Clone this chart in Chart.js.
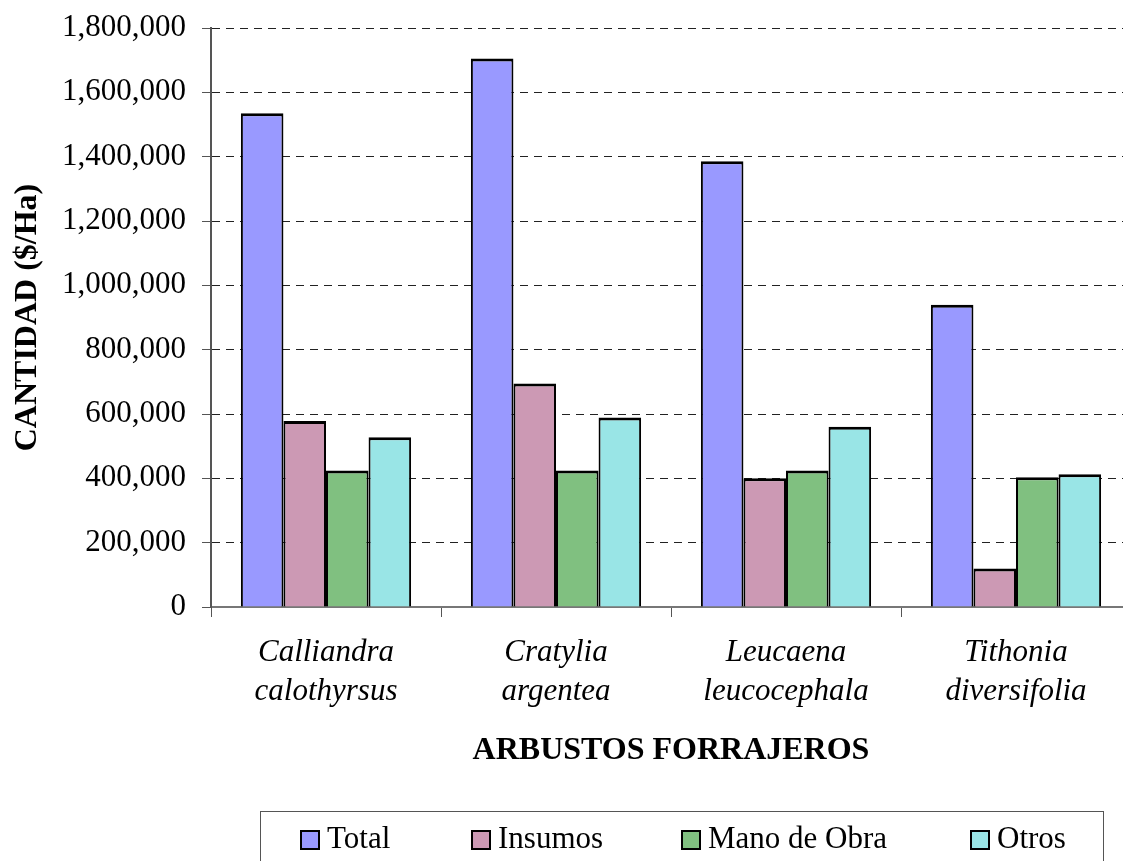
<!DOCTYPE html>
<html>
<head>
<meta charset="utf-8">
<title>Costos de establecimiento de arbustos forrajeros</title>
<script src="https://cdn.jsdelivr.net/npm/chart.js@4"></script>
<style>
  html, body { margin: 0; padding: 0; overflow: hidden; background: #fff; }
  #wrap { width: 1131px; height: 861px; }
</style>
</head>
<body>
<div id="wrap"><canvas id="costChart" width="1131" height="861"></canvas></div>
<script>
// Costos por hectárea de cada arbusto forrajero
var categories = [
  ['Calliandra', 'calothyrsus'],
  ['Cratylia', 'argentea'],
  ['Leucaena', 'leucocephala'],
  ['Tithonia', 'diversifolia']
];
var seriesNames = ['Total', 'Insumos', 'Mano de Obra', 'Otros'];
var total = [1535000, 1705000, 1386000, 940000];
var insumos = [578000, 695000, 400000, 120000];
var manoObra = [424000, 424000, 424000, 403000];
var otros = [528000, 589000, 560000, 413000];
var yTickValues = [0, 200000, 400000, 600000, 800000, 1000000, 1200000, 1400000, 1600000, 1800000];

var serif = '"Liberation Serif", "Times New Roman", Times, serif';
var colors = ['#9999ff', '#cc99b4', '#80c080', '#99e5e6'];

// legend drawn as a framed row under the axis title
var legendX = [300, 471, 681, 970];
var legendBox = {
  id: 'legendBox',
  afterDraw: function(chart) {
    var ctx = chart.ctx;
    ctx.save();
    ctx.strokeStyle = '#555';
    ctx.lineWidth = 1;
    ctx.strokeRect(260.5, 811.5, 843, 80);
    ctx.font = '31px ' + serif;
    ctx.textBaseline = 'middle';
    ctx.textAlign = 'left';
    chart.data.datasets.forEach(function(ds, i) {
      var x = legendX[i];
      ctx.fillStyle = ds.backgroundColor;
      ctx.fillRect(x, 830, 20, 20);
      ctx.lineWidth = 2;
      ctx.strokeStyle = '#000';
      ctx.strokeRect(x + 1, 831, 18, 18);
      ctx.fillStyle = '#000';
      ctx.fillText(ds.label, x + 27, 840);
    });
    ctx.restore();
  }
};

function makeDataset(i, values) {
  return {
    label: seriesNames[i],
    data: values,
    backgroundColor: colors[i],
    borderColor: '#000',
    borderWidth: { top: 3, left: 2, right: 2, bottom: 0 },
    borderSkipped: false,
    barPercentage: 1,
    categoryPercentage: 0.74
  };
}

document.addEventListener('DOMContentLoaded', function() {
  var ctx = document.getElementById('costChart').getContext('2d');
  new Chart(ctx, {
    type: 'bar',
    data: {
      labels: categories,
      datasets: [
        makeDataset(0, total),
        makeDataset(1, insumos),
        makeDataset(2, manoObra),
        makeDataset(3, otros)
      ]
    },
    plugins: [legendBox],
    options: {
      responsive: false,
      animation: false,
      devicePixelRatio: 1,
      layout: {
        padding: { top: 28, left: 0, right: 0, bottom: 71 }
      },
      plugins: {
        legend: { display: false },
        tooltip: { enabled: false }
      },
      scales: {
        x: {
          ticks: {
            color: '#000',
            font: { family: serif, size: 31, style: 'italic', lineHeight: 1.26 },
            padding: 16,
            maxRotation: 0,
            autoSkip: false
          },
          grid: {
            offset: true,
            drawOnChartArea: false,
            drawTicks: true,
            tickLength: 10,
            tickColor: '#555',
            tickWidth: 1
          },
          border: { display: true, color: '#777', width: 2 },
          title: {
            display: true,
            text: 'ARBUSTOS FORRAJEROS',
            color: '#000',
            font: { family: serif, size: 32, weight: 'bold' },
            padding: { top: 0, bottom: 20 }
          },
          afterFit: function(scale) { scale.height = 183; }
        },
        y: {
          min: 0,
          max: 1800000,
          afterBuildTicks: function(scale) {
            scale.ticks = yTickValues.map(function(v) { return { value: v }; });
          },
          ticks: {
            color: '#000',
            font: { family: serif, size: 31 },
            padding: 16,
            callback: function(value) { return value.toLocaleString('en-US'); }
          },
          grid: {
            color: function(c) {
              return c.tick && c.tick.value === 0 ? 'rgba(0,0,0,0)' : '#222';
            },
            lineWidth: 1,
            tickLength: 9,
            tickColor: '#555',
            tickWidth: 1
          },
          border: { display: true, color: '#555', width: 2, dash: [8, 6] },
          title: {
            display: true,
            text: 'CANTIDAD ($/Ha)',
            color: '#000',
            font: { family: serif, size: 32, weight: 'bold' },
            padding: { top: 9, bottom: 0 }
          },
          afterFit: function(scale) {
            scale.width = 211;
            scale.paddingTop = 0;
            scale.paddingBottom = 0;
          }
        }
      }
    }
  });
});
</script>
</body>
</html>
